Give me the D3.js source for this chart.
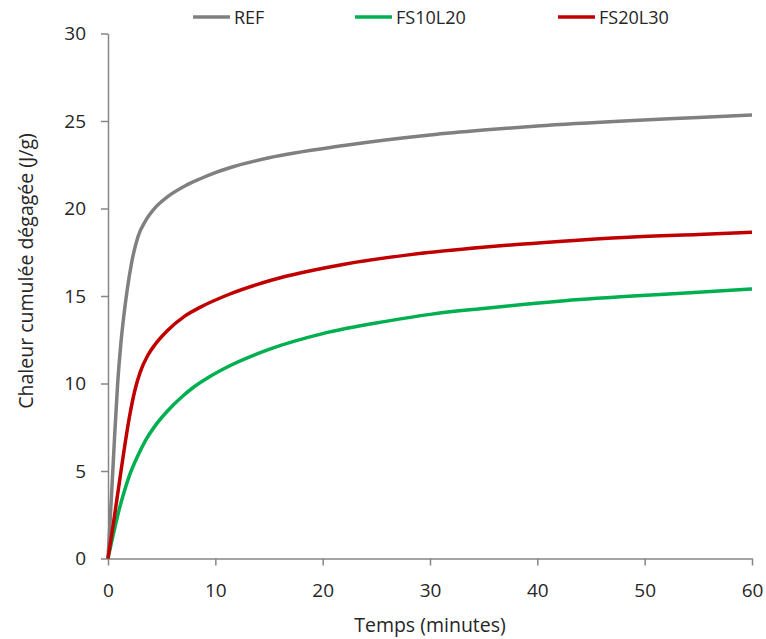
<!DOCTYPE html>
<html><head><meta charset="utf-8">
<script src="https://cdn.jsdelivr.net/npm/d3@7"></script>
<style>body{margin:0;background:#fff}svg{display:block}text{font-family:"Open Sans",sans-serif;fill:#262626}</style>
</head><body><svg id="c" width="766" height="639"></svg>
<script>
const seriesNames = ["REF", "FS10L20", "FS20L30"];
const seriesColors = ["#808080", "#00b050", "#c00000"];
const xTicks = [0, 10, 20, 30, 40, 50, 60];
const yTicks = [0, 5, 10, 15, 20, 25, 30];
const refT = [0, 0.3, 0.6, 0.9, 1.2, 1.5, 1.8, 2.2, 2.8, 3.5, 4.4, 5.5, 7.2, 8.6, 10, 11.2, 15, 22, 30, 35, 40, 48.5, 55, 60];
const refV = [0, 3.3, 6.8, 10.0, 12.3, 14.0, 15.4, 16.9, 18.4, 19.3, 20.05, 20.65, 21.3, 21.7, 22.05, 22.3, 22.9, 23.6, 24.2, 24.48, 24.72, 25.02, 25.2, 25.35];
const fs10T = [0, 0.5, 1.0, 1.5, 2.0, 2.8, 3.5, 4.35, 5.5, 7, 8, 9.5, 11.3, 15, 20, 25.9, 30, 35.2, 42, 48.5, 55, 60];
const fs10V = [0, 1.4, 2.7, 3.8, 4.75, 5.9, 6.75, 7.55, 8.4, 9.3, 9.8, 10.4, 11.0, 11.95, 12.85, 13.55, 13.95, 14.3, 14.7, 14.98, 15.21, 15.4];
const fs20T = [0, 0.5, 1.0, 1.5, 2.0, 2.5, 3, 3.7, 4.35, 5.5, 7.15, 8.57, 11.3, 15.2, 21.9, 28, 35.2, 42, 48.5, 55, 60];
const fs20V = [0, 2.0, 4.1, 6.2, 8.1, 9.6, 10.65, 11.6, 12.2, 13.0, 13.85, 14.35, 15.1, 15.9, 16.8, 17.35, 17.8, 18.12, 18.36, 18.52, 18.64];

const series = [
  {name: seriesNames[0], color: seriesColors[0], t: refT, v: refV},
  {name: seriesNames[1], color: seriesColors[1], t: fs10T, v: fs10V},
  {name: seriesNames[2], color: seriesColors[2], t: fs20T, v: fs20V}
];

const svg = d3.select("#c");
const x = d3.scaleLinear().domain([0, 60]).range([108, 752]);
const y = d3.scaleLinear().domain([0, 30]).range([558.5, 33.5]);
const axisColor = "#868686";

const gx = svg.append("g").attr("transform", `translate(0,${y(0)})`)
  .call(d3.axisBottom(x).tickValues(xTicks).tickSize(7).tickSizeOuter(0).tickPadding(18));
const gy = svg.append("g").attr("transform", `translate(${x(0)},0)`)
  .call(d3.axisLeft(y).tickValues(yTicks).tickSize(7).tickSizeOuter(0).tickPadding(15));
[gx, gy].forEach(g => {
  g.select(".domain").attr("stroke", axisColor).attr("stroke-width", 1.5);
  g.selectAll(".tick line").attr("stroke", axisColor).attr("stroke-width", 1.5);
  g.selectAll(".tick text").attr("font-size", 19).attr("fill", "#262626").attr("font-family", "Open Sans");
});

const line = d3.line().x(d => x(d[0])).y(d => y(d[1])).curve(d3.curveMonotoneX);
series.forEach(s => {
  svg.append("path").datum(s.t.map((t, i) => [t, s.v[i]]))
    .attr("d", line).attr("fill", "none").attr("stroke", s.color).attr("stroke-width", 3.5)
    .attr("stroke-linejoin", "round");
});

svg.append("text").attr("x", 430).attr("y", 632).attr("text-anchor", "middle")
  .attr("font-size", 19.5).text("Temps (minutes)");
svg.append("text").attr("transform", "translate(33,271) rotate(-90)").attr("text-anchor", "middle")
  .attr("font-size", 19.5).text("Chaleur cumulée dégagée (J/g)");

const legX = [193, 355, 558];
series.forEach((s, i) => {
  svg.append("line").attr("x1", legX[i]).attr("x2", legX[i] + 37).attr("y1", 17).attr("y2", 17)
    .attr("stroke", s.color).attr("stroke-width", 3.5);
  svg.append("text").attr("x", legX[i] + 41).attr("y", 24).attr("font-size", 18).text(s.name);
});
</script></body></html>
